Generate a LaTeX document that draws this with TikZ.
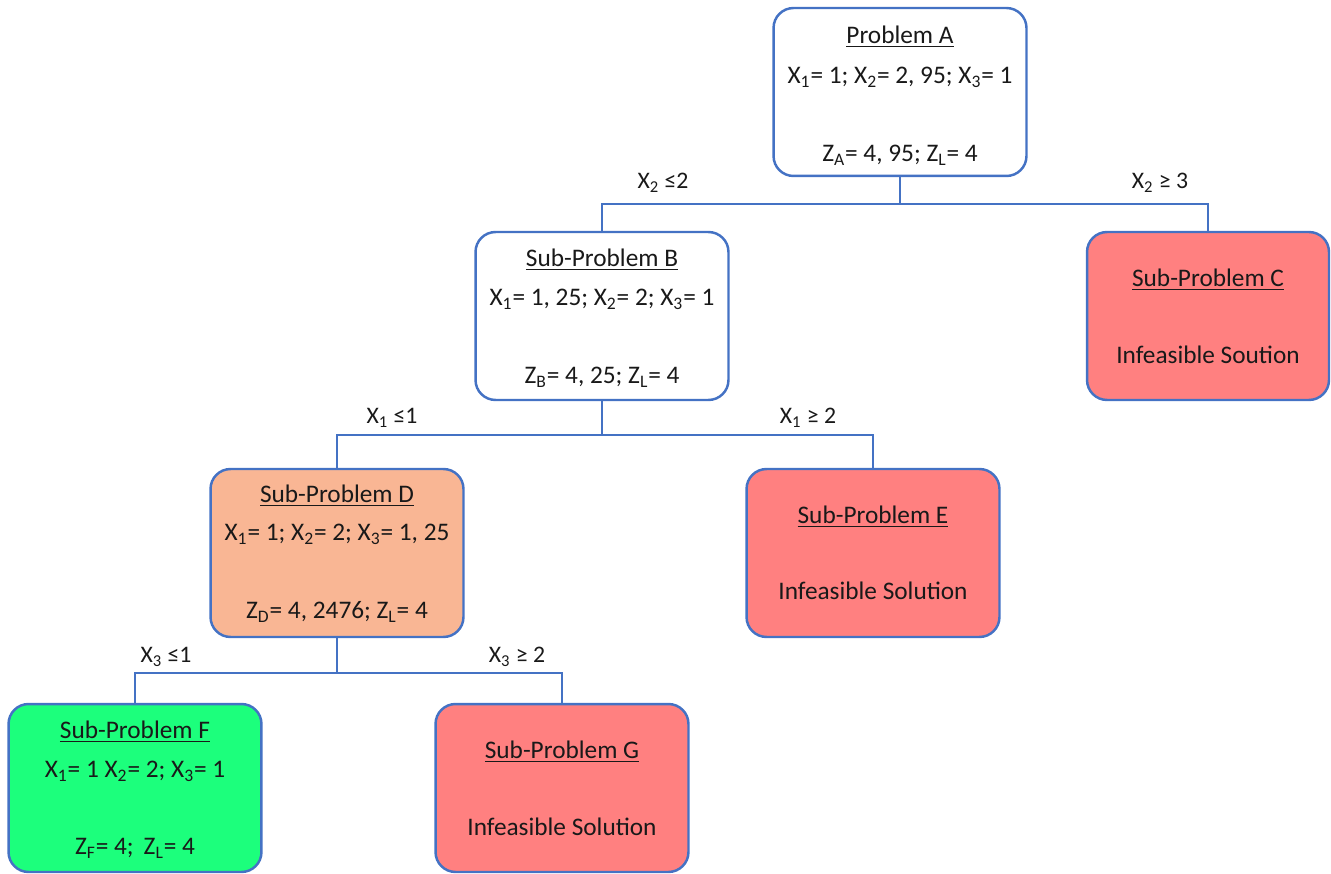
\documentclass[tikz,border=0pt]{standalone}
\usepackage{fontspec}
\setmainfont{Carlito}
\usetikzlibrary{positioning}

\definecolor{lineblue}{RGB}{68,114,196}
\definecolor{infred}{RGB}{255,128,128}
\definecolor{peach}{RGB}{249,182,148}
\definecolor{optgreen}{RGB}{28,255,124}
\definecolor{txt}{RGB}{25,25,25}

\tikzset{
    box/.style={draw=lineblue, line width=1.4pt, rounded corners=0.4cm,
        minimum width=5.06cm, minimum height=3.36cm, fill=white},
    link/.style={draw=lineblue, line width=1.1pt},
    txtline/.style={font=\fontsize{14.4}{16}\selectfont, text=txt, inner sep=1pt},
    cut/.style={font=\fontsize{13.5}{15}\selectfont, text=txt, inner sep=1pt}
}

\begin{document}
\begin{tikzpicture}[x=0.02cm, y=-0.02cm]

\useasboundingbox (0,0) rectangle (1331,874);

% =============================================
% Nodes of the branch and bound tree
% =============================================
\node[box] (A) at (900,92) {};
\node[box] (B) at (602,316) {};
\node[box, fill=infred, minimum width=4.84cm] (C) at (1208,316) {};
\node[box, fill=peach] (D) at (337,553) {};
\node[box, fill=infred] (E) at (873,553) {};
\node[box, fill=optgreen] (F) at (135,788) {};
\node[box, fill=infred] (G) at (562,788) {};

% Problem A
\node[txtline] (Atitle) at (900,37) {\underline{Problem A}};
\node[txtline] (Asol) at (900,77) {X\textsubscript{1}= 1; X\textsubscript{2}= 2, 95; X\textsubscript{3}= 1};
\node[txtline] (Aval) at (900,155) {Z\textsubscript{A}= 4, 95; Z\textsubscript{L}= 4};

% Sub-Problem B
\node[txtline] (Btitle) at (602,260) {\underline{Sub-Problem B}};
\node[txtline] (Bsol) at (602,299) {X\textsubscript{1}= 1, 25; X\textsubscript{2}= 2; X\textsubscript{3}= 1};
\node[txtline] (Bval) at (602,377) {Z\textsubscript{B}= 4, 25; Z\textsubscript{L}= 4};

% Sub-Problem C
\node[txtline] (Ctitle) at (1208,280) {\underline{Sub-Problem C}};
\node[txtline] (Cval) at (1208,355) {Infeasible Soution};

% Sub-Problem D
\node[txtline] (Dtitle) at (337,496) {\underline{Sub-Problem D}};
\node[txtline] (Dsol) at (337,534) {X\textsubscript{1}= 1; X\textsubscript{2}= 2; X\textsubscript{3}= 1, 25};
\node[txtline] (Dval) at (337,612) {Z\textsubscript{D}= 4, 2476; Z\textsubscript{L}= 4};

% Sub-Problem E
\node[txtline] (Etitle) at (873,517) {\underline{Sub-Problem E}};
\node[txtline] (Eval) at (873,591) {Infeasible Solution};

% Sub-Problem F
\node[txtline] (Ftitle) at (135,732) {\underline{Sub-Problem F}};
\node[txtline] (Fsol) at (135,771) {X\textsubscript{1}= 1 X\textsubscript{2}= 2; X\textsubscript{3}= 1};
\node[txtline] (Fval) at (135,848) {Z\textsubscript{F}= 4;\, Z\textsubscript{L}= 4};

% Sub-Problem G
\node[txtline] (Gtitle) at (562,752) {\underline{Sub-Problem G}};
\node[txtline] (Gval) at (562,827) {Infeasible Solution};

% =============================================
% Branches
% =============================================
\draw[link] (A.south) -- ++(0,27) -| (B.north);
\draw[link] (A.south) -- ++(0,27) -| (C.north);
\draw[link] (B.south) -- ++(0,34) -| (D.north);
\draw[link] (B.south) -- ++(0,34) -| (E.north);
\draw[link] (D.south) -- ++(0,35) -| (F.north);
\draw[link] (D.south) -- ++(0,35) -| (G.north);

% Branch constraints
\node[cut] (AB) at (663,183) {X\textsubscript{2} ≤2};
\node[cut] (AC) at (1160,183) {X\textsubscript{2} ≥ 3};
\node[cut] (BD) at (392,418) {X\textsubscript{1} ≤1};
\node[cut] (BE) at (808,418) {X\textsubscript{1} ≥ 2};
\node[cut] (DF) at (166,657) {X\textsubscript{3} ≤1};
\node[cut] (DG) at (517,657) {X\textsubscript{3} ≥ 2};

\end{tikzpicture}
\end{document}
